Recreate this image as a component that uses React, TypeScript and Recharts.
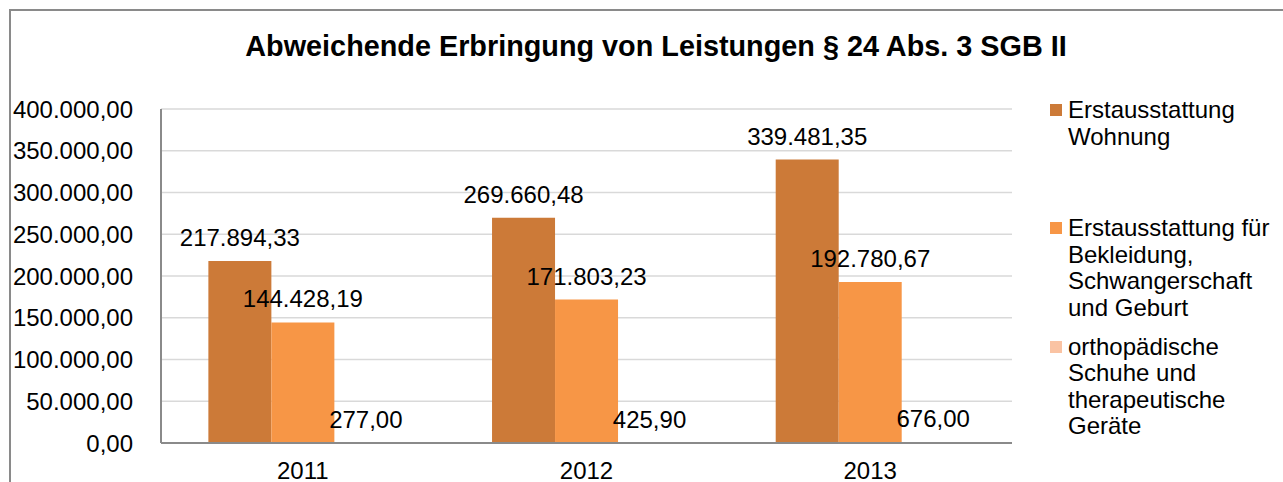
import React from "react";
import { BarChart, Bar, XAxis, YAxis, CartesianGrid, Legend, LabelList } from "recharts";

const categories = ["2011", "2012", "2013"];
const wohnung = [217894.33, 269660.48, 339481.35];
const bekleidung = [144428.19, 171803.23, 192780.67];
const orthopaedisch = [277.0, 425.9, 676.0];
const yTicks = [0, 50000, 100000, 150000, 200000, 250000, 300000, 350000, 400000];
const seriesNames = [
  "Erstausstattung Wohnung",
  "Erstausstattung für Bekleidung, Schwangerschaft und Geburt",
  "orthopädische Schuhe und therapeutische Geräte",
];
const legendLines = [
  ["Erstausstattung", "Wohnung"],
  ["Erstausstattung für", "Bekleidung,", "Schwangerschaft", "und Geburt"],
  ["orthopädische", "Schuhe und", "therapeutische", "Geräte"],
];
const colors = ["#CC7A38", "#F79646", "#FAC3A3"];
const title = "Abweichende Erbringung von Leistungen § 24 Abs. 3 SGB II";

const data = categories.map((c, i) => ({
  year: c,
  s1: wohnung[i],
  s2: bekleidung[i],
  s3: orthopaedisch[i],
}));

const FONT = '"Liberation Sans", Arial, sans-serif';

function fmt(v: number): string {
  const neg = v < 0;
  const fixed = Math.abs(v).toFixed(2);
  const [intPart, dec] = fixed.split(".");
  const withDots = intPart.replace(/\B(?=(\d{3})+(?!\d))/g, ".");
  return (neg ? "-" : "") + withDots + "," + dec;
}

const LegendContent = () => (
  <div style={{ position: "relative", width: 233, height: 380, fontFamily: FONT }}>
    {legendLines.map((lines, i) => (
      <div
        key={i}
        style={{ position: "absolute", left: 0, top: i * 118.3, width: 233 }}
      >
        <div
          style={{
            position: "absolute",
            left: 0,
            top: 7,
            width: 12,
            height: 12,
            background: colors[i],
          }}
        />
        <div
          style={{
            position: "absolute",
            left: 18,
            top: 0,
            fontSize: 24,
            lineHeight: "26.6px",
            color: "#000",
            whiteSpace: "nowrap",
          }}
        >
          {lines.map((l, j) => (
            <div key={j}>{l}</div>
          ))}
        </div>
      </div>
    ))}
  </div>
);

export default function App() {
  return (
    <div
      style={{
        position: "absolute",
        left: 0,
        top: 0,
        width: 1283,
        height: 482,
        overflow: "hidden",
        background: "#fff",
        fontFamily: FONT,
      }}
    >
      <div
        style={{
          position: "absolute",
          left: 9,
          top: 9,
          width: 1400,
          height: 600,
          borderLeft: "2px solid #8A8A8A",
          borderTop: "2px solid #8A8A8A",
        }}
      />
      <div
        style={{
          position: "absolute",
          left: 0,
          width: 1312,
          top: 29,
          textAlign: "center",
          fontSize: 28.8,
          fontWeight: "bold",
          lineHeight: "34px",
          color: "#000",
          whiteSpace: "nowrap",
        }}
      >
        {title}
      </div>
      <div style={{ position: "absolute", left: 0, top: 0 }}>
        <BarChart
          width={1283}
          height={482}
          data={data}
          margin={{ top: 109, right: 271, bottom: 0, left: 0 }}
          barCategoryGap="16.7%"
          barGap={0}
        >
          <CartesianGrid vertical={false} stroke="#D9D9D9" strokeWidth={1.5} />
          <XAxis
            dataKey="year"
            height={39}
            tickLine={false}
            tickSize={0}
            tickMargin={19}
            axisLine={{ stroke: "#8A8A8A", strokeWidth: 2 }}
            tick={{ fill: "#000", fontSize: 24, fontFamily: FONT }}
          />
          <YAxis
            width={161}
            domain={[0, 400000]}
            ticks={yTicks}
            interval={0}
            tickFormatter={fmt}
            tickLine={false}
            tickSize={0}
            tickMargin={28}
            axisLine={{ stroke: "#8A8A8A", strokeWidth: 2 }}
            tick={{ fill: "#000", fontSize: 24, fontFamily: FONT }}
          />
          <Legend
            layout="vertical"
            align="center"
            verticalAlign="middle"
            content={LegendContent}
            wrapperStyle={{ position: "absolute", left: 1050, top: 97, width: 233, height: 380 }}
          />
          <Bar dataKey="s1" name={seriesNames[0]} fill={colors[0]} isAnimationActive={false}>
            <LabelList dataKey="s1" position="top" offset={15} formatter={(v: any) => fmt(Number(v))} style={{ fill: "#000", fontSize: 24, fontFamily: FONT }} />
          </Bar>
          <Bar dataKey="s2" name={seriesNames[1]} fill={colors[1]} isAnimationActive={false}>
            <LabelList dataKey="s2" position="top" offset={15} formatter={(v: any) => fmt(Number(v))} style={{ fill: "#000", fontSize: 24, fontFamily: FONT }} />
          </Bar>
          <Bar dataKey="s3" name={seriesNames[2]} fill={colors[2]} isAnimationActive={false}>
            <LabelList dataKey="s3" position="top" offset={15} formatter={(v: any) => fmt(Number(v))} style={{ fill: "#000", fontSize: 24, fontFamily: FONT }} />
          </Bar>
        </BarChart>
      </div>
    </div>
  );
}
